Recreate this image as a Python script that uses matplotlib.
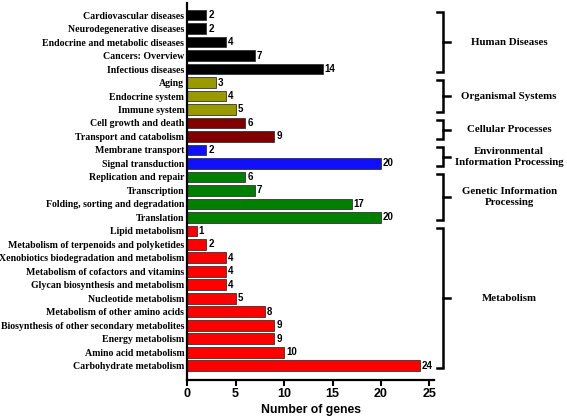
import matplotlib
matplotlib.use("Agg")
import matplotlib.pyplot as plt
from matplotlib.transforms import blended_transform_factory

# ── data ─────────────────────────────────────────────
categories = [
    "Cardiovascular diseases", "Neurodegenerative diseases",
    "Endocrine and metabolic diseases", "Cancers: Overview", "Infectious diseases",
    "Aging", "Endocrine system", "Immune system",
    "Cell growth and death", "Transport and catabolism",
    "Membrane transport", "Signal transduction",
    "Replication and repair", "Transcription",
    "Folding, sorting and degradation", "Translation",
    "Lipid metabolism", "Metabolism of terpenoids and polyketides",
    "Xenobiotics biodegradation and metabolism", "Metabolism of cofactors and vitamins",
    "Glycan biosynthesis and metabolism", "Nucleotide metabolism",
    "Metabolism of other amino acids", "Biosynthesis of other secondary metabolites",
    "Energy metabolism", "Amino acid metabolism", "Carbohydrate metabolism",
]
gene_counts = [2, 2, 4, 7, 14, 3, 4, 5, 6, 9, 2, 20, 6, 7, 17, 20,
               1, 2, 4, 4, 4, 5, 8, 9, 9, 10, 24]

group_names = ["Human Diseases", "Organismal Systems", "Cellular Processes",
               "Environmental\nInformation Processing",
               "Genetic Information\nProcessing", "Metabolism"]
group_sizes = [5, 3, 2, 2, 4, 11]
group_colors = ["#000000", "#999900", "#800000", "#1010ff", "#008000", "#ff0000"]

# ── figure ───────────────────────────────────────────
SERIF = ["Liberation Serif", "DejaVu Serif"]
SANS = ["Liberation Sans", "DejaVu Sans"]

fig = plt.figure(figsize=(5.67, 4.18), dpi=100)
ax = fig.add_axes([0.330, 0.091, 0.436, 0.902])

bar_colors = []
for c, n in zip(group_colors, group_sizes):
    bar_colors += [c] * n

ypos = list(range(len(categories)))
ax.barh(ypos, gene_counts, height=0.8, color=bar_colors,
        edgecolor="#333333", linewidth=0.6)

for y, v in zip(ypos, gene_counts):
    ax.text(v + 0.2, y, str(v), va="center", ha="left", fontsize=7,
            fontweight="bold", family=SANS)

ax.set_xlim(0, 25.5)
ax.set_ylim(len(categories) - 1 + 1.05, -0.9)
ax.set_yticks(ypos)
ax.set_yticklabels(categories, fontsize=7.1, fontweight="bold", family=SERIF)
ax.tick_params(axis="y", length=0, pad=2)
ax.set_xticks([0, 5, 10, 15, 20, 25])
ax.tick_params(axis="x", length=4, width=1.5, labelsize=9, direction="out", pad=2)
for lab in ax.get_xticklabels():
    lab.set_fontweight("bold")
    lab.set_family(SANS)
ax.set_xlabel("Number of genes", fontsize=8.8, fontweight="bold", family=SANS,
              labelpad=3)

for s in ["top", "right"]:
    ax.spines[s].set_visible(False)
for s in ["left", "bottom"]:
    ax.spines[s].set_linewidth(1.6)

# ── group brackets ───────────────────────────────────
tr = blended_transform_factory(fig.transFigure, ax.transData)
xv, xl, xr, xt = 0.781, 0.771, 0.794, 0.898
start = 0
for name, n in zip(group_names, group_sizes):
    y0, y1 = start - 0.2, start + n - 1 + 0.2
    ym = (y0 + y1) / 2
    ax.plot([xl, xv, xv, xl], [y0, y0, y1, y1], color="black", lw=1.8,
            transform=tr, clip_on=False, solid_joinstyle="miter")
    ax.plot([xv, xr], [ym, ym], color="black", lw=1.8, transform=tr, clip_on=False)
    ax.text(xt, ym, name, transform=tr, ha="center", va="center",
            fontsize=7.8, fontweight="bold", family=SERIF, linespacing=1.25)
    start += n

fig.savefig("out.png", dpi=100)
